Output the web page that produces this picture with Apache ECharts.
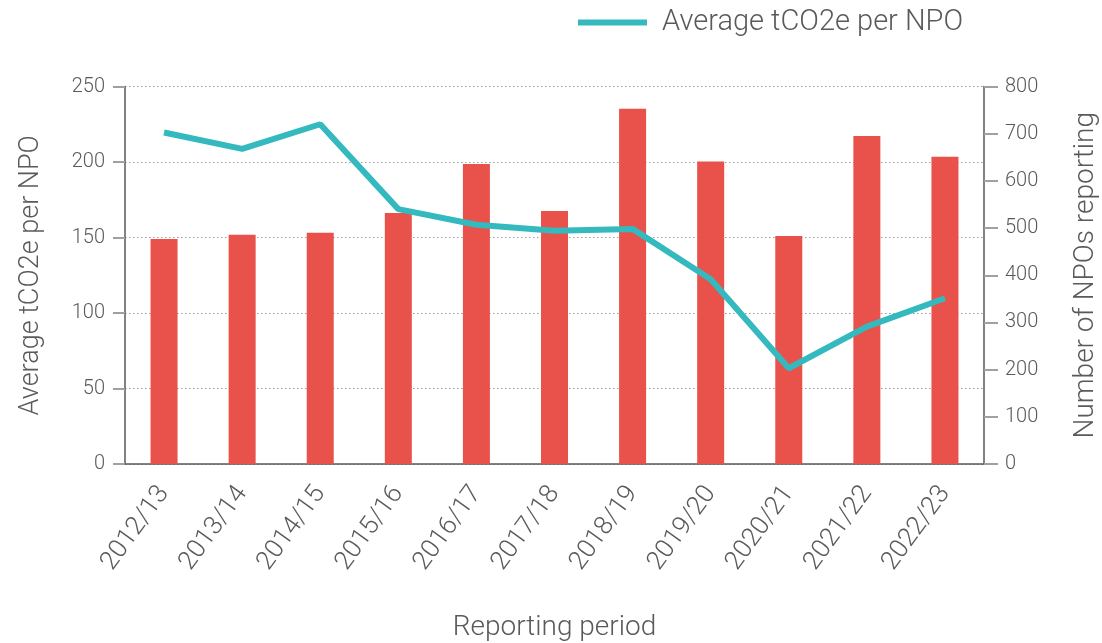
<!DOCTYPE html>
<html>
<head>
<meta charset="utf-8">
<script src="https://cdn.jsdelivr.net/npm/echarts@6/dist/echarts.min.js"></script>
<style>
html,body{margin:0;padding:0;background:#fff;}
#chart{width:1102px;height:643px;}
</style>
</head>
<body>
<div id="chart"></div>
<script>
const categories = ['2012/13','2013/14','2014/15','2015/16','2016/17','2017/18','2018/19','2019/20','2020/21','2021/22','2022/23'];
const npoCount = [477, 486, 490, 532, 636, 536, 753, 641, 483, 695, 651];
const avgCO2e = [219.5, 208.7, 225, 168.8, 158.4, 154.4, 155.7, 122.4, 63.4, 91, 109.8];
const leftTicks = { min: 0, max: 250, interval: 50 };
const rightTicks = { min: 0, max: 800, interval: 100 };

const txt = '#5a5a5a';
const font = 'Roboto, "Liberation Sans", sans-serif';
const chart = echarts.init(document.getElementById('chart'));
chart.setOption({
  animation: false,
  textStyle: { fontFamily: font, fontWeight: 300, color: txt },
  legend: {
    data: ['Average tCO2e per NPO'],
    left: 578, top: 8, padding: 0,
    icon: 'rect', itemWidth: 69, itemHeight: 6,
    textStyle: { fontSize: 29, color: txt, fontFamily: font, fontWeight: 300, padding: [0,0,0,10] }
  },
  grid: { left: 125, right: 118, top: 86.5, bottom: 179, outerBoundsMode: 'none', containLabel: false },
  xAxis: {
    type: 'category', data: categories,
    axisLine: { lineStyle: { color: '#595959', width: 1.5 } },
    axisTick: { show: false },
    axisLabel: { rotate: 54, fontSize: 26, margin: 25, color: txt, fontFamily: font, fontWeight: 300 },
    name: 'Reporting period', nameLocation: 'middle', nameGap: 150,
    nameTextStyle: { fontSize: 28, color: txt, fontFamily: font, fontWeight: 300 }
  },
  yAxis: [{
    type: 'value', position: 'left', min: leftTicks.min, max: leftTicks.max, interval: leftTicks.interval,
    axisLine: { show: true, lineStyle: { color: '#595959', width: 1.5 } },
    axisTick: { show: true, length: 12, lineStyle: { color: '#a0a0a0', width: 2 } },
    splitLine: { lineStyle: { color: '#9a9a9a', type: [1.5, 2.5], width: 1 } },
    axisLabel: { fontSize: 20, margin: 20, color: txt, fontFamily: font, fontWeight: 300 },
    name: 'Average tCO2e per NPO', nameLocation: 'middle', nameGap: 80, nameRotate: 90,
    nameTextStyle: { fontSize: 27, color: txt, fontFamily: font, fontWeight: 300 }
  }, {
    type: 'value', position: 'right', min: rightTicks.min, max: rightTicks.max, interval: rightTicks.interval,
    axisLine: { show: true, lineStyle: { color: '#595959', width: 1.5 } },
    axisTick: { show: true, length: 14, lineStyle: { color: '#a0a0a0', width: 2 } },
    splitLine: { show: false },
    axisLabel: { fontSize: 20, margin: 21, color: txt, fontFamily: font, fontWeight: 300 },
    name: 'Number of NPOs reporting', nameLocation: 'middle', nameGap: 88, nameRotate: 90,
    nameTextStyle: { fontSize: 28, color: txt, fontFamily: font, fontWeight: 300 }
  }],
  series: [{
    name: 'Number of NPOs reporting', type: 'bar', yAxisIndex: 1, data: npoCount,
    barWidth: 27, itemStyle: { color: '#e9524a' }
  }, {
    name: 'Average tCO2e per NPO', type: 'line', yAxisIndex: 0, data: avgCO2e,
    symbol: 'none', lineStyle: { color: '#33b9be', width: 6 }, itemStyle: { color: '#33b9be' }, z: 3
  }]
});
</script>
</body>
</html>
